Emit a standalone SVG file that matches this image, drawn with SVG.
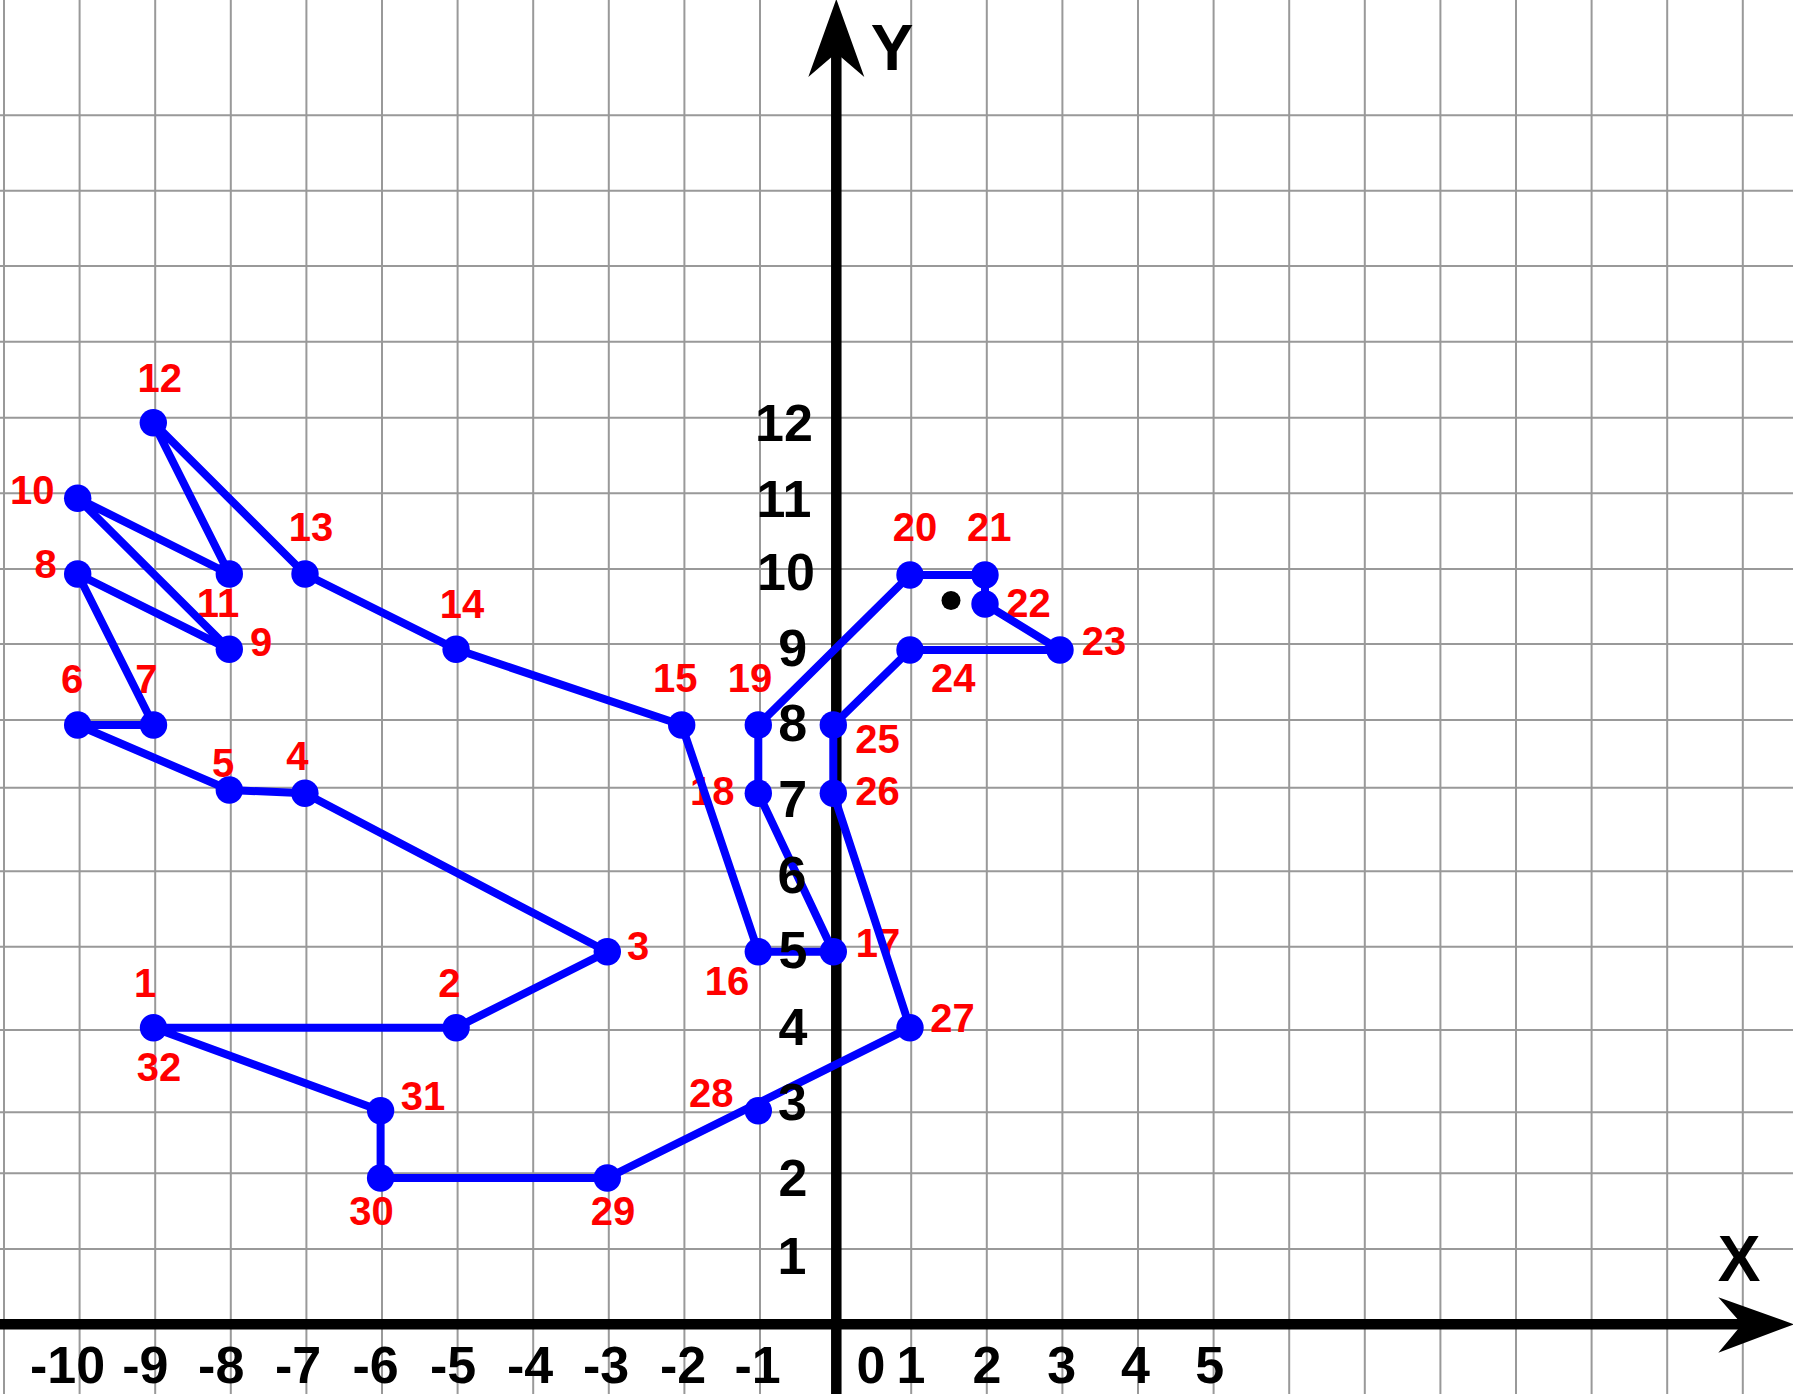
<svg xmlns="http://www.w3.org/2000/svg" width="1793" height="1394" viewBox="0 0 1793 1394">
<style>
.grid line{stroke:#999;stroke-width:2}
.ax{stroke:#000;stroke-width:10.5}
.poly{fill:none;stroke:#0000ff;stroke-width:8;stroke-linejoin:round;stroke-linecap:round}
.pt{fill:#0000ff}
.lbl{font-family:"Liberation Sans",Arial,sans-serif;font-weight:bold;font-size:40px;fill:#ff0000;text-anchor:middle}
.num{font-family:"Liberation Sans",Arial,sans-serif;font-weight:bold;font-size:52px;fill:#000;text-anchor:middle}
.axl{font-family:"Liberation Sans",Arial,sans-serif;font-weight:bold;font-size:64px;fill:#000;text-anchor:middle}
</style>
<rect width="1793" height="1394" fill="#fff"/>
<g id="grid" class="grid">
<line x1="4" y1="0" x2="4" y2="1394"/><line x1="79.6" y1="0" x2="79.6" y2="1394"/><line x1="155.2" y1="0" x2="155.2" y2="1394"/><line x1="230.8" y1="0" x2="230.8" y2="1394"/><line x1="306.4" y1="0" x2="306.4" y2="1394"/><line x1="382" y1="0" x2="382" y2="1394"/><line x1="457.6" y1="0" x2="457.6" y2="1394"/><line x1="533.2" y1="0" x2="533.2" y2="1394"/><line x1="608.8" y1="0" x2="608.8" y2="1394"/><line x1="684.4" y1="0" x2="684.4" y2="1394"/><line x1="760" y1="0" x2="760" y2="1394"/><line x1="911.2" y1="0" x2="911.2" y2="1394"/><line x1="986.8" y1="0" x2="986.8" y2="1394"/><line x1="1062.4" y1="0" x2="1062.4" y2="1394"/><line x1="1138" y1="0" x2="1138" y2="1394"/><line x1="1213.6" y1="0" x2="1213.6" y2="1394"/><line x1="1289.2" y1="0" x2="1289.2" y2="1394"/><line x1="1364.8" y1="0" x2="1364.8" y2="1394"/><line x1="1440.4" y1="0" x2="1440.4" y2="1394"/><line x1="1516" y1="0" x2="1516" y2="1394"/><line x1="1591.6" y1="0" x2="1591.6" y2="1394"/><line x1="1667.2" y1="0" x2="1667.2" y2="1394"/><line x1="1742.8" y1="0" x2="1742.8" y2="1394"/>
<line x1="0" y1="115.3" x2="1793" y2="115.3"/><line x1="0" y1="190.7" x2="1793" y2="190.7"/><line x1="0" y1="266" x2="1793" y2="266"/><line x1="0" y1="341.7" x2="1793" y2="341.7"/><line x1="0" y1="417.7" x2="1793" y2="417.7"/><line x1="0" y1="493.3" x2="1793" y2="493.3"/><line x1="0" y1="569" x2="1793" y2="569"/><line x1="0" y1="644" x2="1793" y2="644"/><line x1="0" y1="720" x2="1793" y2="720"/><line x1="0" y1="787.7" x2="1793" y2="787.7"/><line x1="0" y1="871.3" x2="1793" y2="871.3"/><line x1="0" y1="946.7" x2="1793" y2="946.7"/><line x1="0" y1="1030" x2="1793" y2="1030"/><line x1="0" y1="1112.3" x2="1793" y2="1112.3"/><line x1="0" y1="1173.3" x2="1793" y2="1173.3"/><line x1="0" y1="1249" x2="1793" y2="1249"/>
</g>
<g id="axes">
<line class="ax" x1="836.3" y1="50" x2="836.3" y2="1394"/>
<polygon points="836.3,-1 864.3,77 836.3,53 808.3,77" fill="#000"/>
<line class="ax" x1="0" y1="1324.3" x2="1745" y2="1324.3"/>
<polygon points="1794,1324.3 1718.3,1297.3 1742,1324.3 1718.3,1352.7" fill="#000"/>
<text class="axl" x="892" y="70">Y</text>
<text class="axl" x="1739" y="1281">X</text>
</g>
<g id="point-labels">
<text class="lbl" x="145" y="997">1</text>
<text class="lbl" x="449.4" y="997">2</text>
<text class="lbl" x="638" y="960">3</text>
<text class="lbl" x="297.3" y="770">4</text>
<text class="lbl" x="223" y="777">5</text>
<text class="lbl" x="72.2" y="692.7">6</text>
<text class="lbl" x="146.3" y="692.7">7</text>
<text class="lbl" x="45.5" y="578.3">8</text>
<text class="lbl" x="261.2" y="655.7">9</text>
<text class="lbl" x="32.2" y="504">10</text>
<text class="lbl" x="218" y="616.7">11</text>
<text class="lbl" x="159.7" y="391.7">12</text>
<text class="lbl" x="311" y="540.7">13</text>
<text class="lbl" x="462" y="618">14</text>
<text class="lbl" x="675.3" y="691.7">15</text>
<text class="lbl" x="727" y="995">16</text>
<text class="lbl" x="878" y="956.7">17</text>
<text class="lbl" x="712.3" y="805">18</text>
<text class="lbl" x="750" y="691.7">19</text>
<text class="lbl" x="915" y="541">20</text>
<text class="lbl" x="989.2" y="541">21</text>
<text class="lbl" x="1028.5" y="616.7">22</text>
<text class="lbl" x="1104" y="655">23</text>
<text class="lbl" x="953.3" y="691.7">24</text>
<text class="lbl" x="877.5" y="752.7">25</text>
<text class="lbl" x="877.5" y="805">26</text>
<text class="lbl" x="952.5" y="1032.3">27</text>
<text class="lbl" x="711.3" y="1107.3">28</text>
<text class="lbl" x="613" y="1224.7">29</text>
<text class="lbl" x="371.6" y="1224.7">30</text>
<text class="lbl" x="423" y="1110">31</text>
<text class="lbl" x="159" y="1080.5">32</text>
</g>
<g id="connectors">
<polyline class="poly" points="153.5,1027.7 456.1,1027.7 607.3,951.7 304.9,793.3 229.3,790 77.7,725 153.5,725 77.7,574 229.3,649.3 77.7,498.3 229.3,574 153.3,422.7 305,574 456.1,649.3 681.7,725 758.3,951.7 833.3,951.7 758.3,793.3 758.3,725 910,575 985,575 985,604 1060,650 910,650 833.3,725 833.3,793.3 910,1027.7 607.3,1178 380.6,1178 380.6,1110.7 153.5,1027.7"/>
</g>
<g id="points">
<circle id="p1" class="pt" cx="153.5" cy="1027.7" r="13.7"/>
<circle id="p2" class="pt" cx="456.1" cy="1027.7" r="13.7"/>
<circle id="p3" class="pt" cx="607.3" cy="951.7" r="13.7"/>
<circle id="p4" class="pt" cx="304.9" cy="793.3" r="13.7"/>
<circle id="p5" class="pt" cx="229.3" cy="790" r="13.7"/>
<circle id="p6" class="pt" cx="77.7" cy="725" r="13.7"/>
<circle id="p7" class="pt" cx="153.5" cy="725" r="13.7"/>
<circle id="p8" class="pt" cx="77.7" cy="574" r="13.7"/>
<circle id="p9" class="pt" cx="229.3" cy="649.3" r="13.7"/>
<circle id="p10" class="pt" cx="77.7" cy="498.3" r="13.7"/>
<circle id="p11" class="pt" cx="229.3" cy="574" r="13.7"/>
<circle id="p12" class="pt" cx="153.3" cy="422.7" r="13.7"/>
<circle id="p13" class="pt" cx="305" cy="574" r="13.7"/>
<circle id="p14" class="pt" cx="456.1" cy="649.3" r="13.7"/>
<circle id="p15" class="pt" cx="681.7" cy="725" r="13.7"/>
<circle id="p16" class="pt" cx="758.3" cy="951.7" r="13.7"/>
<circle id="p17" class="pt" cx="833.3" cy="951.7" r="13.7"/>
<circle id="p18" class="pt" cx="758.3" cy="793.3" r="13.7"/>
<circle id="p19" class="pt" cx="758.3" cy="725" r="13.7"/>
<circle id="p20" class="pt" cx="910" cy="575" r="13.7"/>
<circle id="p21" class="pt" cx="985" cy="575" r="13.7"/>
<circle id="p22" class="pt" cx="985" cy="604" r="13.7"/>
<circle id="p23" class="pt" cx="1060" cy="650" r="13.7"/>
<circle id="p24" class="pt" cx="910" cy="650" r="13.7"/>
<circle id="p25" class="pt" cx="833.3" cy="725" r="13.7"/>
<circle id="p26" class="pt" cx="833.3" cy="793.3" r="13.7"/>
<circle id="p27" class="pt" cx="910" cy="1027.7" r="13.7"/>
<circle id="p28" class="pt" cx="758.3" cy="1110.7" r="13.7"/>
<circle id="p29" class="pt" cx="607.3" cy="1178" r="13.7"/>
<circle id="p30" class="pt" cx="380.6" cy="1178" r="13.7"/>
<circle id="p31" class="pt" cx="380.6" cy="1110.7" r="13.7"/>
<circle id="eye" cx="951" cy="600.5" r="9.5" fill="#000"/>
</g>
<g id="axis-numbers">
<text class="num" x="67.5" y="1383">-10</text>
<text class="num" x="145.4" y="1383">-9</text>
<text class="num" x="221.2" y="1383">-8</text>
<text class="num" x="298" y="1383">-7</text>
<text class="num" x="375.5" y="1383">-6</text>
<text class="num" x="453" y="1383">-5</text>
<text class="num" x="530" y="1383">-4</text>
<text class="num" x="606" y="1383">-3</text>
<text class="num" x="683" y="1383">-2</text>
<text class="num" x="757.5" y="1383">-1</text>
<text class="num" x="871" y="1383">0</text>
<text class="num" x="911" y="1383">1</text>
<text class="num" x="987" y="1383">2</text>
<text class="num" x="1061.7" y="1383">3</text>
<text class="num" x="1135.5" y="1383">4</text>
<text class="num" x="1209.6" y="1383">5</text>
<text class="num" x="784" y="440.5">12</text>
<text class="num" x="784" y="516.5">11</text>
<text class="num" x="786" y="590">10</text>
<text class="num" x="792.8" y="666">9</text>
<text class="num" x="792.8" y="741">8</text>
<text class="num" x="792.8" y="817">7</text>
<text class="num" x="792" y="893">6</text>
<text class="num" x="793" y="968">5</text>
<text class="num" x="793" y="1045">4</text>
<text class="num" x="792.5" y="1120">3</text>
<text class="num" x="793" y="1196">2</text>
<text class="num" x="792" y="1274">1</text>
</g>
</svg>
